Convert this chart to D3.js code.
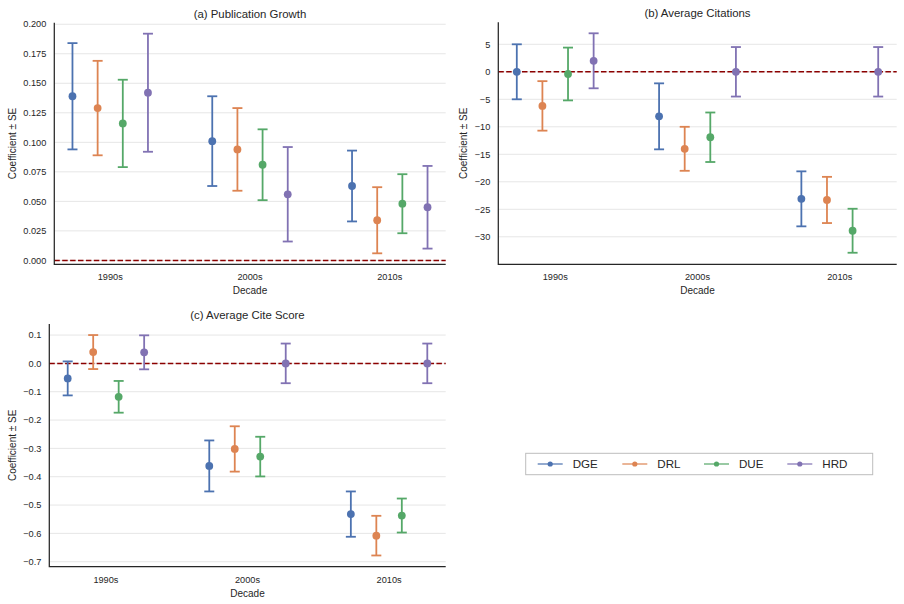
<!DOCTYPE html>
<html>
<head>
<meta charset="utf-8">
<script src="https://cdn.jsdelivr.net/npm/d3@7"></script>
<style>
  body { margin: 0; background: #fff; }
  svg { font-family: "Liberation Sans", Arial, sans-serif; }
  .grid line { stroke: #e6e6e6; stroke-width: 1; }
</style>
</head>
<body>
<svg id="chart" width="904" height="604"></svg>
<script>
// Data: coefficient and standard error per program, per decade
const decades = ["1990s", "2000s", "2010s"];
const programs = ["DGE", "DRL", "DUE", "HRD"];
const colors = ["#4C72B0", "#DD8452", "#55A868", "#8172B3"];

// (a) Publication Growth
const pubCoef = {
    DGE: [0.139, 0.101, 0.063],
    DRL: [0.129, 0.094, 0.034],
    DUE: [0.116, 0.081, 0.048],
    HRD: [0.142, 0.056, 0.045],
};
const pubSE = {
    DGE: [0.045, 0.038, 0.030],
    DRL: [0.040, 0.035, 0.028],
    DUE: [0.037, 0.030, 0.025],
    HRD: [0.050, 0.040, 0.035],
};

// (b) Average Citations
const citCoef = {
    DGE: [0, -8.1, -23.1],
    DRL: [-6.2, -14.0, -23.3],
    DUE: [-0.4, -11.9, -28.9],
    HRD: [2.0, 0, 0],
};
const citSE = {
    DGE: [5.0, 6.0, 5.0],
    DRL: [4.5, 4.0, 4.2],
    DUE: [4.8, 4.5, 4.0],
    HRD: [5.0, 4.5, 4.5],
};

// (c) Average Cite Score
const scoreCoef = {
    DGE: [-0.053, -0.362, -0.532],
    DRL: [0.040, -0.302, -0.608],
    DUE: [-0.118, -0.329, -0.537],
    HRD: [0.039, 0, 0],
};
const scoreSE = {
    DGE: [0.060, 0.090, 0.080],
    DRL: [0.060, 0.080, 0.070],
    DUE: [0.056, 0.070, 0.060],
    HRD: [0.060, 0.070, 0.070],
};

const pubTicks = d3.range(0, 0.2001, 0.025);
const citTicks = [-30, -25, -20, -15, -10, -5, 0, 5];
const scoreTicks = [-0.7, -0.6, -0.5, -0.4, -0.3, -0.2, -0.1, 0.0, 0.1];

const svg = d3.select("#chart");
const textColor = "#262626";
const dodge = 0.18;

function drawPanel(opts) {
    const { box, title, coef, se, ticks, fmt, ydomain } = opts;

    const x = d3.scaleLinear().domain([-0.4, 2.4]).range([box.left, box.right]);
    const y = d3.scaleLinear().domain(ydomain).range([box.bottom, box.top]);

    const g = svg.append("g");

    // gridlines
    g.append("g")
        .attr("class", "grid")
        .selectAll("line")
        .data(ticks)
        .join("line")
        .attr("x1", box.left)
        .attr("x2", box.right)
        .attr("y1", (d) => y(d))
        .attr("y2", (d) => y(d));

    // y tick labels
    g.append("g")
        .selectAll("text")
        .data(ticks)
        .join("text")
        .attr("x", box.left - 8)
        .attr("y", (d) => y(d))
        .attr("dy", "0.35em")
        .attr("text-anchor", "end")
        .attr("font-size", "9.2px")
        .attr("fill", textColor)
        .text((d) => fmt(d));

    // x tick labels
    g.append("g")
        .selectAll("text")
        .data(decades)
        .join("text")
        .attr("x", (d, i) => x(i))
        .attr("y", box.bottom + 16)
        .attr("text-anchor", "middle")
        .attr("font-size", "9.2px")
        .attr("fill", textColor)
        .text((d) => d);

    // zero reference line
    g.append("line")
        .attr("x1", box.left)
        .attr("x2", box.right)
        .attr("y1", y(0))
        .attr("y2", y(0))
        .attr("stroke", "#8B0000")
        .attr("stroke-width", 1.5)
        .attr("stroke-dasharray", "5.5,2.4");

    // error bars and points
    programs.forEach((p, k) => {
        const off = (k - 1.5) * dodge;
        const rows = decades.map((d, i) => ({
            cx: i + off,
            v: coef[p][i],
            lo: coef[p][i] - se[p][i],
            hi: coef[p][i] + se[p][i],
        }));
        const pg = g.append("g").attr("stroke", colors[k]).attr("fill", colors[k]);
        pg.selectAll("line.bar")
            .data(rows)
            .join("line")
            .attr("class", "bar")
            .attr("x1", (d) => x(d.cx))
            .attr("x2", (d) => x(d.cx))
            .attr("y1", (d) => y(d.lo))
            .attr("y2", (d) => y(d.hi))
            .attr("stroke-width", 1.8);
        ["lo", "hi"].forEach((key) => {
            pg.selectAll("line.cap-" + key)
                .data(rows)
                .join("line")
                .attr("class", "cap-" + key)
                .attr("x1", (d) => x(d.cx) - 5)
                .attr("x2", (d) => x(d.cx) + 5)
                .attr("y1", (d) => y(d[key]))
                .attr("y2", (d) => y(d[key]))
                .attr("stroke-width", 1.8);
        });
        pg.selectAll("circle")
            .data(rows)
            .join("circle")
            .attr("cx", (d) => x(d.cx))
            .attr("cy", (d) => y(d.v))
            .attr("r", 3.9)
            .attr("stroke", "none");
    });

    // spines (left and bottom)
    g.append("path")
        .attr("d", `M${box.left},${box.top}V${box.bottom}H${box.right}`)
        .attr("fill", "none")
        .attr("stroke", textColor)
        .attr("stroke-width", 1.25);

    // title
    g.append("text")
        .attr("x", (box.left + box.right) / 2)
        .attr("y", box.top - 5)
        .attr("text-anchor", "middle")
        .attr("font-size", "11.4px")
        .attr("fill", textColor)
        .text(title);

    // x label
    g.append("text")
        .attr("x", (box.left + box.right) / 2)
        .attr("y", box.bottom + 30)
        .attr("text-anchor", "middle")
        .attr("font-size", "10px")
        .attr("fill", textColor)
        .text("Decade");

    // y label
    g.append("text")
        .attr("transform", `translate(${box.ylabelX},${(box.top + box.bottom) / 2}) rotate(-90)`)
        .attr("text-anchor", "middle")
        .attr("font-size", "10px")
        .attr("fill", textColor)
        .text("Coefficient \u00b1 SE");
}

drawPanel({
    box: { left: 54.3, right: 445.7, top: 22.7, bottom: 264.3, ylabelX: 16 },
    title: "(a) Publication Growth",
    coef: pubCoef,
    se: pubSE,
    ticks: pubTicks,
    fmt: d3.format(".3f"),
    ydomain: [-0.0033, 0.2013],
});

drawPanel({
    box: { left: 498.3, right: 896.7, top: 22.3, bottom: 264.3, ylabelX: 467 },
    title: "(b) Average Citations",
    coef: citCoef,
    se: citSE,
    ticks: citTicks,
    fmt: d3.format("d"),
    ydomain: [-35, 9],
});

drawPanel({
    box: { left: 49.3, right: 445.7, top: 324, bottom: 566.7, ylabelX: 16 },
    title: "(c) Average Cite Score",
    coef: scoreCoef,
    se: scoreSE,
    ticks: scoreTicks,
    fmt: d3.format(".1f"),
    ydomain: [-0.7176, 0.139],
});

// legend
const legend = svg.append("g");
legend.append("rect")
    .attr("x", 525.7)
    .attr("y", 453.3)
    .attr("width", 347)
    .attr("height", 21.4)
    .attr("fill", "#fff")
    .attr("stroke", "#bdbdbd")
    .attr("stroke-width", 1);

const legendX = [537.7, 622.3, 704, 787.3];
programs.forEach((p, k) => {
    const item = legend.append("g").attr("transform", `translate(${legendX[k]},464)`);
    item.append("line")
        .attr("x1", 0)
        .attr("x2", 25)
        .attr("stroke", colors[k])
        .attr("stroke-opacity", 0.8)
        .attr("stroke-width", 1.5);
    item.append("circle")
        .attr("cx", 12.5)
        .attr("r", 2.6)
        .attr("fill", colors[k]);
    item.append("text")
        .attr("x", 35)
        .attr("dy", "0.35em")
        .attr("font-size", "11.6px")
        .attr("fill", textColor)
        .text(p);
});
</script>
</body>
</html>
